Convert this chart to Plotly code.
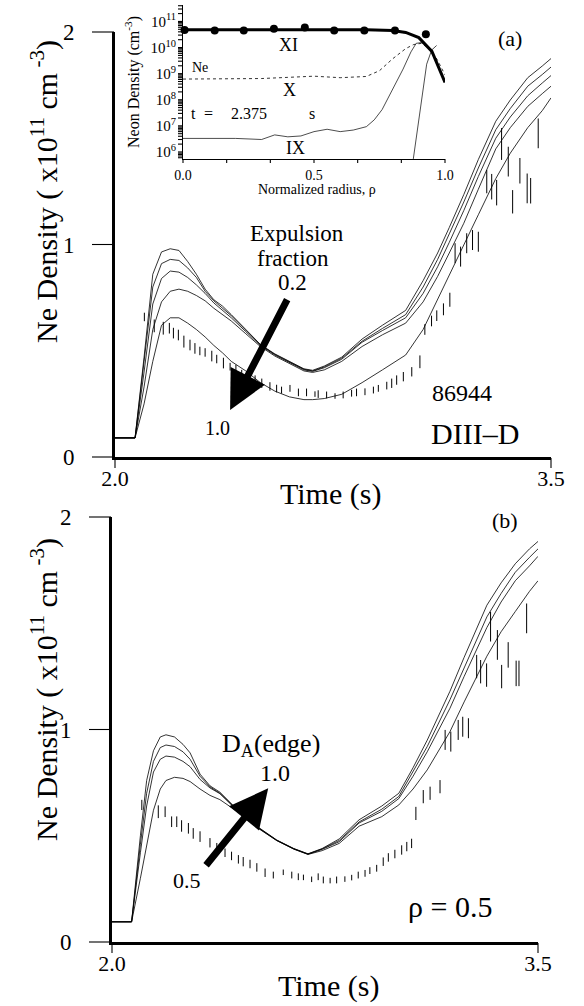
import math
import plotly.graph_objects as go

W, H = 584, 1006
FONT = "Liberation Serif"

# ---------------- Panel (a): expulsion fraction scan ----------------
time_a = [2.0, 2.069, 2.10, 2.13, 2.16, 2.19, 2.22, 2.25, 2.28, 2.31, 2.34, 2.37, 2.40, 2.45,
          2.50, 2.55, 2.60, 2.65, 2.68, 2.72, 2.78, 2.85, 2.92, 3.00, 3.06, 3.11, 3.15, 3.20,
          3.25, 3.31, 3.36, 3.42, 3.47, 3.50]
frac_02 = [0.09, 0.09, 0.47, 0.86, 0.965, 0.98, 0.972, 0.92, 0.86, 0.79, 0.74, 0.71, 0.67, 0.60,
           0.53, 0.485, 0.45, 0.415, 0.408, 0.428, 0.47, 0.555, 0.62, 0.69, 0.83, 0.96, 1.08, 1.235,
           1.40, 1.58, 1.68, 1.785, 1.84, 1.875]
frac_04 = [0.09, 0.09, 0.45, 0.80, 0.91, 0.93, 0.925, 0.89, 0.845, 0.78, 0.735, 0.70, 0.665, 0.597,
           0.528, 0.483, 0.447, 0.413, 0.405, 0.424, 0.465, 0.545, 0.605, 0.67, 0.80, 0.93, 1.05, 1.20,
           1.36, 1.54, 1.64, 1.745, 1.80, 1.835]
frac_06 = [0.09, 0.09, 0.40, 0.72, 0.84, 0.875, 0.87, 0.845, 0.81, 0.77, 0.725, 0.69, 0.655, 0.59,
           0.525, 0.48, 0.445, 0.41, 0.403, 0.42, 0.46, 0.54, 0.595, 0.655, 0.77, 0.895, 1.01, 1.16,
           1.32, 1.50, 1.60, 1.70, 1.76, 1.795]
frac_08 = [0.09, 0.09, 0.33, 0.60, 0.73, 0.78, 0.79, 0.78, 0.76, 0.735, 0.70, 0.67, 0.64, 0.58,
           0.52, 0.475, 0.44, 0.405, 0.398, 0.41, 0.45, 0.52, 0.575, 0.63, 0.73, 0.85, 0.96, 1.10,
           1.26, 1.45, 1.55, 1.65, 1.71, 1.745]
frac_10 = [0.09, 0.09, 0.25, 0.45, 0.62, 0.655, 0.655, 0.63, 0.60, 0.565, 0.525, 0.49, 0.45, 0.405,
           0.35, 0.31, 0.283, 0.27, 0.27, 0.275, 0.295, 0.35, 0.41, 0.48, 0.60, 0.74, 0.86, 1.0,
           1.14, 1.31, 1.43, 1.55, 1.63, 1.69]

data_t_a = [2.101, 2.135, 2.166, 2.187, 2.201, 2.218, 2.237, 2.258, 2.275, 2.292, 2.310, 2.333,
            2.350, 2.373, 2.396, 2.416, 2.436, 2.459, 2.482, 2.505, 2.533, 2.556, 2.573, 2.602,
            2.631, 2.659, 2.688, 2.699, 2.728, 2.757, 2.785, 2.814, 2.831, 2.860, 2.889, 2.906,
            2.935, 2.952, 2.969, 2.992, 3.021, 3.049, 3.066, 3.089, 3.107, 3.130, 3.152, 3.170,
            3.189, 3.210, 3.230, 3.250, 3.279, 3.296, 3.313, 3.330, 3.353, 3.368, 3.393, 3.418,
            3.430, 3.456]
data_v_a = [0.659, 0.617, 0.606, 0.606, 0.583, 0.574, 0.543, 0.527, 0.511, 0.499, 0.492, 0.475,
            0.461, 0.442, 0.425, 0.414, 0.390, 0.378, 0.362, 0.347, 0.332, 0.322, 0.315, 0.323,
            0.304, 0.304, 0.296, 0.296, 0.292, 0.287, 0.292, 0.300, 0.304, 0.307, 0.315, 0.323,
            0.336, 0.347, 0.362, 0.378, 0.401, 0.448, 0.600, 0.640, 0.665, 0.695, 0.740, 0.959,
            0.943, 1.006, 1.021, 1.013, 1.296, 1.272, 1.244, 1.473, 1.390, 1.201, 1.347, 1.264,
            1.253, 1.523]
data_e_a = [0.02, 0.03, 0.03, 0.025, 0.025, 0.025, 0.028, 0.025, 0.025, 0.02, 0.02, 0.025,
            0.02, 0.025, 0.018, 0.02, 0.02, 0.022, 0.022, 0.022, 0.02, 0.018, 0.016, 0.016,
            0.018, 0.018, 0.013, 0.018, 0.016, 0.013, 0.016, 0.016, 0.018, 0.016, 0.016, 0.016,
            0.018, 0.022, 0.022, 0.022, 0.022, 0.03, 0.025, 0.025, 0.025, 0.028, 0.033, 0.047,
            0.047, 0.047, 0.047, 0.047, 0.055, 0.06, 0.06, 0.075, 0.07, 0.055, 0.06, 0.07,
            0.06, 0.07]

# ---------------- Panel (b): edge D_A scan ----------------
time_b = [2.0, 2.069, 2.10, 2.122, 2.146, 2.17, 2.19, 2.22, 2.25, 2.275, 2.31, 2.345, 2.38, 2.44,
          2.51, 2.58, 2.64, 2.69, 2.74, 2.80, 2.87, 2.95, 3.01, 3.06, 3.11, 3.19, 3.24, 3.32,
          3.37, 3.42, 3.47, 3.50]
da_10 = [0.095, 0.095, 0.50, 0.76, 0.90, 0.965, 0.975, 0.965, 0.93, 0.89, 0.79, 0.735, 0.705, 0.625,
         0.545, 0.48, 0.44, 0.415, 0.44, 0.485, 0.575, 0.64, 0.70, 0.82, 0.95, 1.18, 1.34, 1.585,
         1.69, 1.78, 1.85, 1.885]
da_08 = [0.095, 0.095, 0.46, 0.70, 0.85, 0.915, 0.927, 0.92, 0.895, 0.86, 0.78, 0.73, 0.70, 0.622,
         0.543, 0.479, 0.439, 0.414, 0.438, 0.478, 0.565, 0.625, 0.685, 0.80, 0.92, 1.14, 1.29, 1.53,
         1.64, 1.74, 1.81, 1.85]
da_065 = [0.095, 0.095, 0.42, 0.64, 0.80, 0.86, 0.875, 0.87, 0.85, 0.825, 0.765, 0.725, 0.698, 0.62,
          0.541, 0.478, 0.438, 0.413, 0.436, 0.472, 0.56, 0.615, 0.675, 0.78, 0.895, 1.10, 1.25, 1.48,
          1.60, 1.70, 1.77, 1.815]
da_05 = [0.095, 0.095, 0.30, 0.45, 0.62, 0.72, 0.76, 0.775, 0.77, 0.755, 0.72, 0.69, 0.67, 0.615,
         0.539, 0.477, 0.437, 0.412, 0.43, 0.464, 0.545, 0.59, 0.645, 0.72, 0.81, 0.99, 1.13, 1.345,
         1.46, 1.555, 1.65, 1.70]

data_t_b = [2.105, 2.163, 2.187, 2.210, 2.228, 2.245, 2.269, 2.286, 2.310, 2.345, 2.369, 2.398,
            2.421, 2.445, 2.462, 2.486, 2.510, 2.539, 2.568, 2.603, 2.633, 2.656, 2.674, 2.703,
            2.726, 2.744, 2.768, 2.791, 2.820, 2.844, 2.867, 2.891, 2.908, 2.932, 2.955, 2.973,
            2.996, 3.020, 3.038, 3.055, 3.070, 3.096, 3.120, 3.155, 3.173, 3.193, 3.219, 3.235,
            3.255, 3.284, 3.298, 3.319, 3.333, 3.357, 3.372, 3.395, 3.423, 3.433, 3.460]
data_v_b = [0.645, 0.613, 0.613, 0.566, 0.566, 0.546, 0.535, 0.511, 0.496, 0.467, 0.441, 0.420,
            0.405, 0.389, 0.378, 0.367, 0.351, 0.326, 0.315, 0.328, 0.315, 0.307, 0.304, 0.295,
            0.307, 0.292, 0.289, 0.292, 0.296, 0.303, 0.315, 0.323, 0.336, 0.347, 0.378, 0.398,
            0.414, 0.433, 0.449, 0.464, 0.605, 0.684, 0.700, 0.731, 0.951, 0.943, 0.998, 1.013,
            1.006, 1.296, 1.272, 1.256, 1.484, 1.398, 1.249, 1.351, 1.264, 1.264, 1.523]
data_e_b = [0.024, 0.03, 0.025, 0.025, 0.025, 0.027, 0.025, 0.025, 0.025, 0.022, 0.025, 0.02,
            0.02, 0.02, 0.022, 0.02, 0.02, 0.02, 0.016, 0.013, 0.016, 0.016, 0.013, 0.013,
            0.016, 0.016, 0.013, 0.016, 0.013, 0.013, 0.016, 0.016, 0.016, 0.016, 0.02, 0.02,
            0.02, 0.022, 0.022, 0.022, 0.031, 0.031, 0.031, 0.031, 0.047, 0.047, 0.047, 0.047,
            0.047, 0.055, 0.055, 0.055, 0.07, 0.07, 0.055, 0.06, 0.06, 0.06, 0.07]

# ---------------- Inset: radial profiles at t = 2.375 s ----------------
rho_xi = [0.0, 0.1, 0.2, 0.3, 0.4, 0.5, 0.6, 0.7, 0.8, 0.85, 0.9, 0.95, 1.0]
dens_xi = [4.8e10, 4.8e10, 4.8e10, 4.9e10, 5.0e10, 5.0e10, 4.9e10, 4.8e10, 4.5e10, 3.8e10,
           2.4e10, 7.1e9, 4.6e8]
rho_x = [0.0, 0.1, 0.2, 0.3, 0.4, 0.5, 0.6, 0.7, 0.75, 0.8, 0.85, 0.88, 0.91, 0.94, 0.97, 1.0]
dens_x = [6.2e8, 6.2e8, 6.3e8, 6.5e8, 7.2e8, 8.0e8, 7.0e8, 7.8e8, 1.3e9, 3.7e9, 9.1e9, 1.3e10,
          1.45e10, 9.1e9, 3.5e9, 9.0e8]
rho_ix = [0.0, 0.1, 0.2, 0.3, 0.35, 0.4, 0.45, 0.5, 0.55, 0.6, 0.65, 0.7, 0.73, 0.76, 0.8, 0.84,
          0.87, 0.89, 0.91, 0.93, 0.96]
dens_ix = [3.3e6, 3.3e6, 3.3e6, 3.0e6, 4.5e6, 3.8e6, 4.1e6, 6.0e6, 7.4e6, 6.0e6, 6.9e6, 9.3e6,
           1.7e7, 4.2e7, 2.5e8, 1.5e9, 6.8e9, 1.45e10, 1.55e10, 1.23e10, 4.4e9]
rho_low = [0.879, 0.93, 0.949, 0.968]
dens_low = [5.4e5, 2.3e9, 8.0e9, 1.2e10]
rho_meas = [0.006, 0.121, 0.232, 0.347, 0.465, 0.577, 0.692, 0.809, 0.927, 1.013]
dens_meas = [4.7e10, 4.5e10, 4.5e10, 5.2e10, 5.8e10, 4.5e10, 4.5e10, 4.5e10, 3.2e10, 1.9e9]

# axis ranges and tick values
TIME_RANGE = [2.0, 3.5]
DENS_RANGE = [0, 2]
RHO_RANGE = [0, 1.0]
INSET_LOG_RANGE = [5.73, 11.63]
time_ticks = [2.0, 3.5]
time_ticktext = ["2.0", "3.5"]
dens_ticks = [0, 1, 2]
rho_ticks = [0, 1 / 6, 2 / 6, 0.5, 4 / 6, 5 / 6, 1.0]
rho_ticktext = ["0.0", "", "", "0.5", "", "", "1.0"]
inset_tickvals = []
inset_ticktext = []
for d in [5, 6, 7, 8, 9, 10, 11]:
    for m in range(1, 10):
        v = m * 10.0 ** d
        if 10 ** INSET_LOG_RANGE[0] <= v <= 10 ** INSET_LOG_RANGE[1]:
            inset_tickvals.append(v)
            inset_ticktext.append(f"10<sup>{d}</sup>" if m == 1 else "")

# subplot domains in pixels
PA_X = (115, 551); PA_Y = (32, 457)
PB_X = (112, 538); PB_Y = (517, 942)
IN_X = (183, 445); IN_Y = (5, 159)


def px(X, Y):
    return X / W, 1 - Y / H


def scale(v, rng, p0, p1):
    """linear axis scale: data value -> pixel, p0 at rng[0], p1 at rng[1]"""
    return p0 + (v - rng[0]) / (rng[1] - rng[0]) * (p1 - p0)


fig = go.Figure()

thin = dict(color="black", width=0.8)
for ys in [frac_02, frac_04, frac_06, frac_08, frac_10]:
    fig.add_trace(go.Scatter(x=time_a, y=ys, mode="lines", line=thin, xaxis="x", yaxis="y"))
fig.add_trace(go.Scatter(x=data_t_a, y=data_v_a, mode="markers",
                         marker=dict(size=1, color="rgba(0,0,0,0)"),
                         error_y=dict(type="data", array=data_e_a, symmetric=True, width=0,
                                      thickness=1, color="black"),
                         xaxis="x", yaxis="y"))

for ys in [da_10, da_08, da_065, da_05]:
    fig.add_trace(go.Scatter(x=time_b, y=ys, mode="lines", line=thin, xaxis="x2", yaxis="y2"))
fig.add_trace(go.Scatter(x=data_t_b, y=data_v_b, mode="markers",
                         marker=dict(size=1, color="rgba(0,0,0,0)"),
                         error_y=dict(type="data", array=data_e_b, symmetric=True, width=0,
                                      thickness=1, color="black"),
                         xaxis="x2", yaxis="y2"))

# inset
fig.add_trace(go.Scatter(x=rho_ix, y=dens_ix, mode="lines", line=dict(color="black", width=0.7),
                         xaxis="x3", yaxis="y3"))
fig.add_trace(go.Scatter(x=rho_low, y=dens_low, mode="lines", line=dict(color="black", width=0.7),
                         xaxis="x3", yaxis="y3"))
fig.add_trace(go.Scatter(x=rho_x, y=dens_x, mode="lines",
                         line=dict(color="black", width=0.8, dash="dot"),
                         xaxis="x3", yaxis="y3"))
fig.add_trace(go.Scatter(x=rho_xi, y=dens_xi, mode="lines", line=dict(color="black", width=3),
                         xaxis="x3", yaxis="y3"))
fig.add_trace(go.Scatter(x=rho_meas, y=dens_meas, mode="markers",
                         marker=dict(size=8, color="black"),
                         xaxis="x3", yaxis="y3", cliponaxis=False))

# tick marks: segments built from the tick values through each axis scale,
# drawn as one line trace on a full-page pixel overlay (x4/y4)
tick_x, tick_y = [], []


def seg(X0, Y0, X1, Y1):
    tick_x.extend([X0, X1, None])
    tick_y.extend([Y0, Y1, None])


for v in dens_ticks:
    Ya = scale(v, DENS_RANGE, PA_Y[1], PA_Y[0])
    seg(PA_X[0] - 23, Ya, PA_X[0] - 1, Ya)
    Yb = scale(v, DENS_RANGE, PB_Y[1], PB_Y[0])
    seg(PB_X[0] - 23, Yb, PB_X[0] - 1, Yb)
for t in time_ticks:
    Xa = scale(t, TIME_RANGE, PA_X[0], PA_X[1])
    seg(Xa, PA_Y[1] + 1, Xa, PA_Y[1] + 11)
    Xb = scale(t, TIME_RANGE, PB_X[0], PB_X[1])
    seg(Xb, PB_Y[1] + 1, Xb, PB_Y[1] + 11)
for v in inset_tickvals:
    Yi = scale(math.log10(v), INSET_LOG_RANGE, IN_Y[1], IN_Y[0])
    seg(IN_X[0] - 5, Yi, IN_X[0], Yi)
for r in rho_ticks:
    Xi = scale(r, RHO_RANGE, IN_X[0], IN_X[1])
    seg(Xi, IN_Y[1], Xi, IN_Y[1] + 4)

fig.add_trace(go.Scatter(x=tick_x, y=tick_y, mode="lines", line=dict(color="black", width=1.1),
                         xaxis="x4", yaxis="y4", hoverinfo="skip", cliponaxis=False,
                         connectgaps=False))

main_x = dict(range=TIME_RANGE, showline=True, linewidth=3, linecolor="black", ticks="",
              tickmode="array", tickvals=time_ticks, ticktext=time_ticktext,
              showgrid=False, zeroline=False,
              tickfont=dict(family=FONT, size=22, color="black"))
main_y = dict(range=DENS_RANGE, showline=True, linewidth=3, linecolor="black", ticks="",
              tickmode="array", tickvals=dens_ticks, ticklabelstandoff=33,
              showgrid=False, zeroline=False,
              tickfont=dict(family=FONT, size=23, color="black"))

fig.update_layout(
    template="none",
    width=W, height=H, margin=dict(l=0, r=0, t=0, b=0, pad=0), autosize=False,
    paper_bgcolor="white", plot_bgcolor="rgba(0,0,0,0)", showlegend=False,
    xaxis=dict(main_x, domain=[PA_X[0] / W, PA_X[1] / W], anchor="y"),
    yaxis=dict(main_y, domain=[1 - PA_Y[1] / H, 1 - PA_Y[0] / H], anchor="x"),
    xaxis2=dict(main_x, domain=[PB_X[0] / W, PB_X[1] / W], anchor="y2"),
    yaxis2=dict(main_y, domain=[1 - PB_Y[1] / H, 1 - PB_Y[0] / H], anchor="x2"),
    xaxis3=dict(domain=[IN_X[0] / W, IN_X[1] / W], anchor="y3", range=RHO_RANGE, showline=True,
                linewidth=1, linecolor="black", ticks="", tickmode="array",
                tickvals=rho_ticks, ticktext=rho_ticktext, ticklabelstandoff=3,
                showgrid=False, zeroline=False,
                tickfont=dict(family=FONT, size=14, color="black")),
    yaxis3=dict(domain=[1 - IN_Y[1] / H, 1 - IN_Y[0] / H], anchor="x3", type="log",
                range=INSET_LOG_RANGE, showline=True, linewidth=1, linecolor="black", ticks="",
                tickmode="array", tickvals=inset_tickvals, ticktext=inset_ticktext,
                ticklabelstandoff=3, showgrid=False, zeroline=False,
                tickfont=dict(family=FONT, size=15, color="black")),
    xaxis4=dict(domain=[0, 1], range=[0, W], anchor="y4", visible=False, fixedrange=True),
    yaxis4=dict(domain=[0, 1], range=[H, 0], anchor="x4", visible=False, fixedrange=True),
)

ann = []


def text(X, Y, s, size, angle=0):
    xp, yp = px(X, Y)
    ann.append(dict(x=xp, y=yp, xref="paper", yref="paper", text=s, showarrow=False,
                    xanchor="center", yanchor="middle", textangle=angle,
                    font=dict(family=FONT, size=size, color="black")))


# axis titles
text(44, 192, "Ne Density ( x10<sup>11</sup> cm<sup> -3</sup>)", 30, -90)
text(44, 690, "Ne Density ( x10<sup>11</sup> cm<sup> -3</sup>)", 30, -90)
text(330, 494, "Time (s)", 30)
text(328, 986, "Time (s)", 30)
# panel a labels
text(297, 233, "Expulsion", 23)
text(293, 258, "fraction", 23)
text(292, 282, "0.2", 23)
text(217, 428, "1.0", 20)
text(462, 393, "86944", 24)
text(475, 433, "DIII–D", 30)
text(510, 38, "(a)", 22)
# panel b labels
text(271, 745, "D<sub>A</sub>(edge)", 26)
text(275, 773, "1.0", 24)
text(187, 880, "0.5", 22)
text(450, 906, "ρ = 0.5", 30)
text(505, 520, "(b)", 22)
# inset labels
text(132, 82, "Neon Density (cm<sup>-3</sup>)", 16, -90)
text(317, 190, "Normalized radius, ρ", 14)
text(288, 45, "XI", 18)
text(200, 68, "Ne", 14)
text(289, 90, "X", 18)
text(193, 113, "t", 16)
text(208, 113, "=", 16)
text(249, 113, "2.375", 16)
text(312, 113, "s", 16)
text(295, 148, "IX", 18)

# arrows
ann.append(dict(x=2.396, y=0.221, ax=2.595, ay=0.748, xref="x", yref="y", axref="x", ayref="y",
                showarrow=True, arrowhead=2, arrowsize=1.1, arrowwidth=7, arrowcolor="black",
                text=""))
ann.append(dict(x=2.55, y=0.723, ax=2.327, ay=0.354, xref="x2", yref="y2", axref="x2",
                ayref="y2", showarrow=True, arrowhead=2, arrowsize=1.1, arrowwidth=7,
                arrowcolor="black", text=""))

fig.update_layout(annotations=ann)
fig.write_html("out.html", config={"displayModeBar": False},
               post_script="document.body.style.margin='0';document.body.style.padding='0';")
